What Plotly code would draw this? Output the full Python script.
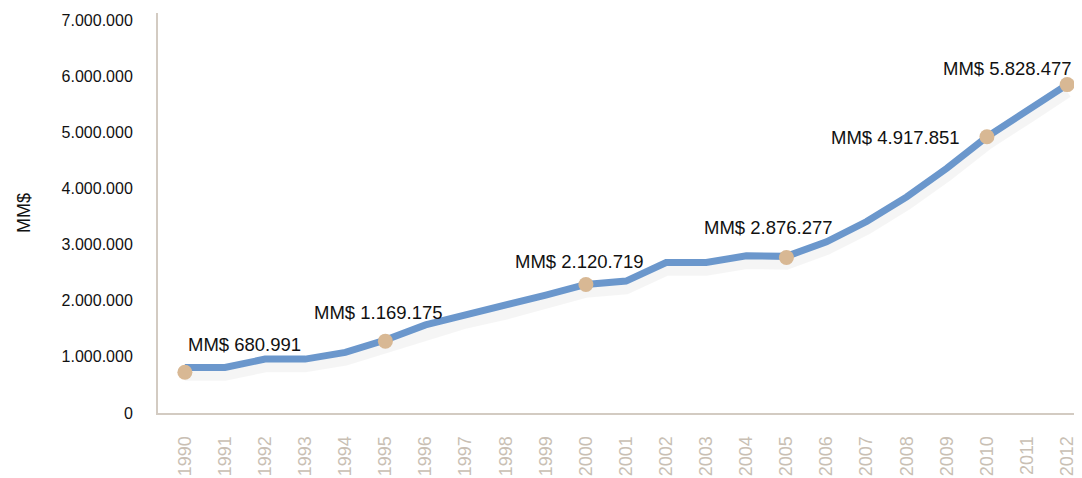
import plotly.graph_objects as go

years = [str(y) for y in range(1990, 2013)]
line_values = [810000, 810000, 960000, 960000, 1080000, 1300000, 1570000, 1740000, 1900000,
               2100000, 2290000, 2350000, 2680000, 2680000, 2800000, 2790000, 3050000, 3410000,
               3850000, 4360000, 4920000, 5380000, 5850000]

marker_years = ["1990", "1995", "2000", "2005", "2010", "2012"]
marker_values = [725000, 1280000, 2290000, 2770000, 4920000, 5850000]
marker_labels = ["MM$ 680.991", "MM$ 1.169.175", "MM$ 2.120.719", "MM$ 2.876.277",
                 "MM$ 4.917.851", "MM$ 5.828.477"]

y_tickvals = [0, 1000000, 2000000, 3000000, 4000000, 5000000, 6000000, 7000000]

LINE = "#6b97cc"
MARK = "#d8b894"
AXIS = "#d3cbc2"
XTICK = "#c9bfb4"
FONT = "Liberation Sans, Arial, sans-serif"

# page body has an 8px default margin; size the figure to fit the 1082x478 window
BODY = 8
W, H = 1082 - BODY, 478 - BODY
ML, MT, MB = 158 - BODY, 13 - BODY, 65

fig = go.Figure()

# soft drop shadow under the line
shadow = [v - 120000 for v in line_values]
fig.add_trace(go.Scatter(x=years, y=shadow, mode="lines",
                         line=dict(color="rgba(0,0,0,0.04)", width=13),
                         hoverinfo="skip", showlegend=False))
fig.add_trace(go.Scatter(x=years, y=line_values, mode="lines",
                         line=dict(color=LINE, width=7),
                         showlegend=False))
fig.add_trace(go.Scatter(x=marker_years, y=marker_values, mode="markers",
                         marker=dict(color=MARK, size=15, line=dict(width=0)),
                         showlegend=False))

# label placement (style): xanchor, xshift, yshift per marker
label_style = [
    ("left", 1, 28),
    ("center", -7, 29),
    ("center", -6, 23),
    ("center", -18, 30),
    ("right", -25, -1),
    ("right", 7, 16),
]
for xv, yv, txt, (xa, xs, ys) in zip(marker_years, marker_values, marker_labels, label_style):
    fig.add_annotation(x=years.index(xv), y=yv, xref="x", yref="y", text=txt, showarrow=False,
                       xanchor=xa, yanchor="middle", xshift=xs, yshift=ys,
                       font=dict(family=FONT, size=18.5, color="#111111"))

plot_w = W - ML
fig.add_annotation(x=(24 - 158) / plot_w, y=0.5, xref="paper", yref="paper", text="MM$",
                   showarrow=False, textangle=-90, xanchor="center", yanchor="middle",
                   font=dict(family=FONT, size=18, color="#111111"))

fig.update_layout(
    width=W, height=H,
    margin=dict(l=ML, r=0, t=MT, b=MB, autoexpand=False),
    paper_bgcolor="white", plot_bgcolor="white",
    separators=",.",
    font=dict(family=FONT),
    xaxis=dict(type="category", range=[-0.67, 22.37], showgrid=False, zeroline=False,
               showline=True, linecolor=AXIS, linewidth=2, ticks="",
               tickangle=-90, ticklabelstandoff=14,
               tickfont=dict(family=FONT, size=18, color=XTICK)),
    yaxis=dict(range=[0, 7125000], tickvals=y_tickvals, tickformat=",d",
               showgrid=False, zeroline=False, showline=True, linecolor=AXIS, linewidth=2,
               ticks="", ticklabelstandoff=20,
               tickfont=dict(family=FONT, size=16, color="#111111")),
)

fig.write_html("out.html")
